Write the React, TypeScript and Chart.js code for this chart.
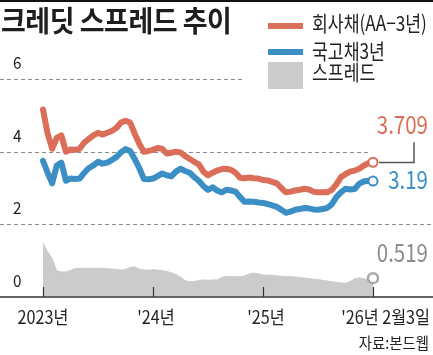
import React, { useEffect, useRef } from "react";
import { Chart, registerables } from "chart.js";

Chart.register(...registerables);

// ---------- DATA ----------
const dates = [
  "2023-01-02", "2023-01-16", "2023-02-01", "2023-02-16", "2023-03-02", "2023-03-16",
  "2023-04-03", "2023-04-17", "2023-05-02", "2023-05-16", "2023-06-01", "2023-06-16",
  "2023-07-03", "2023-07-17", "2023-08-01", "2023-08-16", "2023-09-01", "2023-09-15",
  "2023-10-04", "2023-10-17", "2023-11-01", "2023-11-16", "2023-12-01", "2023-12-15",
  "2024-01-02", "2024-01-16", "2024-02-01", "2024-02-16", "2024-03-04", "2024-03-18",
  "2024-04-01", "2024-04-16", "2024-05-02", "2024-05-16", "2024-06-03", "2024-06-17",
  "2024-07-01", "2024-07-16", "2024-08-01", "2024-08-16", "2024-09-02", "2024-09-19",
  "2024-10-02", "2024-10-16", "2024-11-01", "2024-11-15", "2024-12-02", "2024-12-16",
  "2025-01-02", "2025-01-17", "2025-02-03", "2025-02-20", "2025-03-10", "2025-03-26",
  "2025-04-11", "2025-04-28", "2025-05-15", "2025-06-02", "2025-06-18", "2025-07-04",
  "2025-07-21", "2025-08-06", "2025-08-22", "2025-09-09", "2025-09-25", "2025-10-14",
  "2025-10-30", "2025-11-14", "2025-12-02", "2025-12-18", "2026-01-06", "2026-01-21",
  "2026-02-03",
];

const corpAA = [
  5.16, 4.5, 4.08, 4.38, 4.45, 4.0, 4.06, 4.05, 4.08, 4.25, 4.35, 4.45,
  4.52, 4.47, 4.52, 4.57, 4.65, 4.8, 4.85, 4.8, 4.5, 4.22, 4.0, 4.02,
  4.05, 4.1, 4.08, 3.95, 3.97, 4.0, 3.98, 3.88, 3.8, 3.72, 3.65, 3.45,
  3.35, 3.42, 3.48, 3.52, 3.53, 3.5, 3.42, 3.28, 3.27, 3.29, 3.27, 3.26,
  3.22, 3.21, 3.17, 3.13, 3.0, 2.88, 2.9, 2.93, 2.95, 2.98, 2.96, 2.9,
  2.88, 2.88, 2.88, 2.95, 3.1, 3.3, 3.38, 3.45, 3.48, 3.53, 3.62, 3.68,
  3.709,
];

const treasury3y = [
  3.75, 3.42, 3.13, 3.62, 3.7, 3.2, 3.26, 3.25, 3.26, 3.42, 3.55, 3.62,
  3.72, 3.67, 3.7, 3.77, 3.85, 3.98, 4.07, 4.02, 3.8, 3.55, 3.25, 3.24,
  3.26, 3.33, 3.4, 3.35, 3.32, 3.45, 3.53, 3.47, 3.42, 3.3, 3.2, 3.05,
  2.95, 3.02, 2.93, 2.88, 2.95, 2.93, 2.9, 2.75, 2.62, 2.63, 2.62, 2.6,
  2.59, 2.56, 2.52, 2.48, 2.4, 2.32, 2.35, 2.4, 2.42, 2.45, 2.44, 2.41,
  2.4, 2.42, 2.45, 2.55, 2.75, 2.88, 2.98, 2.96, 2.97, 3.12, 3.18, 3.2,
  3.19,
];

const spread = [
  1.48, 1.25, 1.05, 0.72, 0.69, 0.69, 0.73, 0.78, 0.79, 0.79, 0.79, 0.79,
  0.79, 0.79, 0.78, 0.77, 0.76, 0.74, 0.76, 0.81, 0.83, 0.77, 0.74, 0.74,
  0.75, 0.74, 0.73, 0.7, 0.67, 0.62, 0.55, 0.45, 0.42, 0.43, 0.45, 0.47,
  0.46, 0.47, 0.47, 0.54, 0.57, 0.56, 0.56, 0.56, 0.58, 0.63, 0.66, 0.64,
  0.6, 0.6, 0.6, 0.58, 0.57, 0.56, 0.56, 0.55, 0.54, 0.52, 0.51, 0.49,
  0.48, 0.46, 0.44, 0.42, 0.4, 0.39, 0.38, 0.42, 0.5, 0.53, 0.5, 0.48,
  0.519,
];

const yTickValues = [6, 4, 2, 0];
const xTickDates = ["2023-01-02", "2024-01-02", "2025-01-02", "2026-02-03"];
const xTickLabels = ["2023년", "'24년", "'25년", "'26년 2월3일"];
const endLabels = ["3.709", "3.19", "0.519"];

const seriesNames = ["회사채(AA−3년)", "국고채3년", "스프레드"];
const titleText = "크레딧 스프레드 추이";
const sourceText = "자료:본드웹";

// ---------- STYLE ----------
const RED = "#db6e58";
const BLUE = "#3b8fc5";
const GRAY = "#cbcbcd";
const GRAY_MARK = "#a8a8a8";
const GRAY_TEXT = "#8c8c8c";
const FONT = '"Noto Sans CJK KR", "Noto Sans", sans-serif';

function drawText(
  ctx: CanvasRenderingContext2D,
  text: string,
  x: number,
  y: number,
  size: number,
  color: string,
  align: CanvasTextAlign,
  sx: number,
  weight = "normal"
) {
  ctx.save();
  ctx.translate(x, y);
  ctx.scale(sx, 1);
  ctx.font = `${weight} ${size}px ${FONT}`;
  ctx.fillStyle = color;
  ctx.textAlign = align;
  ctx.textBaseline = "alphabetic";
  ctx.fillText(text, 0, 0);
  ctx.restore();
}

const decorPlugin = {
  id: "decor",
  beforeDatasetsDraw(chart: any) {
    const { ctx, scales } = chart;
    const y = scales.y;
    const W = chart.width;
    ctx.save();
    ctx.strokeStyle = "#8a8a8a";
    ctx.lineWidth = 1;
    ctx.setLineDash([4, 3]);
    const ends: Record<number, number> = { 6: 245, 4: 371, 2: W };
    for (const v of yTickValues) {
      if (v === 0) continue;
      const py = Math.round(y.getPixelForValue(v)) + 0.5;
      ctx.beginPath();
      ctx.moveTo(0, py);
      ctx.lineTo(ends[v], py);
      ctx.stroke();
    }
    ctx.restore();
  },
  afterDatasetsDraw(chart: any) {
    const { ctx, scales } = chart;
    const x = scales.x;
    const y = scales.y;
    const W = chart.width;
    const y0 = y.getPixelForValue(0);

    ctx.save();
    ctx.fillStyle = "#111";
    ctx.fillRect(0, 0, W, 2);

    ctx.strokeStyle = "#666";
    ctx.lineWidth = 2;
    ctx.beginPath();
    ctx.moveTo(0, y0);
    ctx.lineTo(W, y0);
    ctx.stroke();

    ctx.strokeStyle = "#333";
    ctx.lineWidth = 1.2;
    xTickDates.forEach((d) => {
      const idx = dates.indexOf(d);
      const px = Math.round(x.getPixelForValue(idx)) + 0.5;
      ctx.beginPath();
      ctx.moveTo(px, y0 - 10);
      ctx.lineTo(px, y0);
      ctx.stroke();
    });

    yTickValues.forEach((v) => {
      const py = y.getPixelForValue(v);
      drawText(ctx, String(v), 13, py - 10, 17, "#222", "left", 0.9);
    });

    xTickDates.forEach((d, i) => {
      const idx = dates.indexOf(d);
      const px = x.getPixelForValue(idx);
      const last = i === xTickDates.length - 1;
      if (last) {
        drawText(ctx, xTickLabels[i], W - 3, y0 + 27, 18, "#222", "right", 0.9);
      } else {
        drawText(ctx, xTickLabels[i], px + (i === 0 ? 0 : 3), y0 + 27, 18, "#222", "center", 0.9);
      }
    });

    const n = dates.length - 1;
    const pxEnd = x.getPixelForValue(n);
    const pyR = y.getPixelForValue(corpAA[n]);
    const pyB = y.getPixelForValue(treasury3y[n]);
    const pyS = y.getPixelForValue(spread[n]);

    ctx.strokeStyle = "#555";
    ctx.lineWidth = 1.5;
    ctx.beginPath();
    ctx.moveTo(pxEnd + 6, Math.round(pyR) + 0.5);
    ctx.lineTo(pxEnd + 41, Math.round(pyR) + 0.5);
    ctx.lineTo(pxEnd + 41, pyR - 20);
    ctx.stroke();

    drawText(ctx, endLabels[0], W - 5, pyR - 28, 25, RED, "right", 0.82);
    drawText(ctx, endLabels[1], W - 5, pyB + 8, 25, BLUE, "right", 0.82);
    drawText(ctx, endLabels[2], W - 5, pyS - 16, 25, GRAY_TEXT, "right", 0.82);
    ctx.restore();
  },
};

export default function App() {
  const ref = useRef<HTMLCanvasElement>(null);

  useEffect(() => {
    if (!ref.current) return;
    const last = dates.length - 1;
    const endPoint = (r: number) => (c: any) => (c.dataIndex === last ? r : 0);
    const chart = new Chart(ref.current, {
      type: "line",
      data: {
        labels: dates,
        datasets: [
          {
            label: seriesNames[0],
            data: corpAA,
            borderColor: RED,
            borderWidth: 6,
            borderJoinStyle: "round",
            borderCapStyle: "round",
            tension: 0,
            fill: false,
            pointRadius: endPoint(4.5),
            pointHoverRadius: 0,
            pointBackgroundColor: "#fff",
            pointBorderColor: RED,
            pointBorderWidth: 2,
          },
          {
            label: seriesNames[1],
            data: treasury3y,
            borderColor: BLUE,
            borderWidth: 6,
            borderJoinStyle: "round",
            borderCapStyle: "round",
            tension: 0,
            fill: false,
            pointRadius: endPoint(4.5),
            pointHoverRadius: 0,
            pointBackgroundColor: "#fff",
            pointBorderColor: BLUE,
            pointBorderWidth: 2,
          },
          {
            label: seriesNames[2],
            data: spread,
            borderColor: GRAY,
            borderWidth: 1,
            backgroundColor: GRAY,
            tension: 0,
            fill: "origin",
            pointRadius: endPoint(5),
            pointHoverRadius: 0,
            pointBackgroundColor: "#fff",
            pointBorderColor: GRAY_MARK,
            pointBorderWidth: 2.5,
          },
        ],
      },
      options: {
        responsive: false,
        animation: false,
        devicePixelRatio: 1,
        layout: { padding: { left: 43, right: 60, top: 79, bottom: 58 } },
        plugins: {
          legend: { display: false },
          title: { display: false },
          tooltip: { enabled: false },
        },
        events: [],
        scales: {
          x: { type: "category", display: false, offset: false },
          y: { type: "linear", display: false, min: 0, max: 6 },
        },
      },
      plugins: [decorPlugin],
    } as any);
    return () => chart.destroy();
  }, []);

  const legendText: React.CSSProperties = {
    position: "absolute",
    left: 312,
    fontFamily: FONT,
    fontSize: 21,
    lineHeight: "21px",
    color: "#222",
    whiteSpace: "nowrap",
    transform: "scaleX(0.82)",
    transformOrigin: "left center",
  };

  return (
    <div style={{ position: "absolute", left: 0, top: 0, width: 433, height: 355, background: "#fff", overflow: "hidden" }}>
      <canvas ref={ref} width={433} height={355} style={{ position: "absolute", left: 0, top: 0, width: 433, height: 355 }} />
      <div
        style={{
          position: "absolute",
          left: 1,
          top: 5,
          fontFamily: FONT,
          fontSize: 29,
          lineHeight: "29px",
          color: "#1e1e1e",
          whiteSpace: "nowrap",
          fontWeight: 600,
          transform: "scaleX(0.93)",
          transformOrigin: "left center",
          letterSpacing: -0.5,
        }}
      >
        {titleText}
      </div>
      <div style={{ position: "absolute", left: 255, top: 8, width: 178, height: 84, background: "#fff" }} />
      <div style={{ position: "absolute", left: 268, top: 23, width: 35, height: 6, background: RED }} />
      <div style={{ position: "absolute", left: 268, top: 49, width: 35, height: 6, background: BLUE }} />
      <div style={{ position: "absolute", left: 268, top: 62, width: 35, height: 27, background: GRAY }} />
      <div style={{ ...legendText, top: 12 }}>{seriesNames[0]}</div>
      <div style={{ ...legendText, top: 40 }}>{seriesNames[1]}</div>
      <div style={{ ...legendText, top: 61 }}>{seriesNames[2]}</div>
      <div
        style={{
          position: "absolute",
          right: 4,
          top: 334,
          fontFamily: FONT,
          fontSize: 16,
          lineHeight: "16px",
          color: "#222",
          whiteSpace: "nowrap",
          transform: "scaleX(0.9)",
          transformOrigin: "right center",
        }}
      >
        {sourceText}
      </div>
    </div>
  );
}
